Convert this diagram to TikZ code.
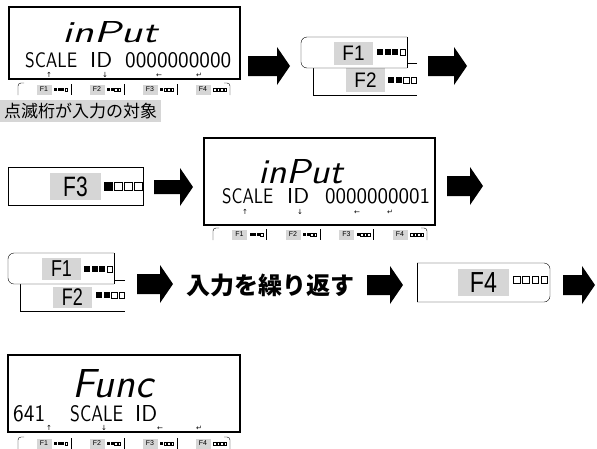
\documentclass[tikz,border=0pt]{standalone}
\usepackage{fontspec}
\usepackage{graphicx}
\newfontfamily\keyf{Liberation Sans}
\newfontfamily\symf{DejaVu Sans}
\newfontfamily\cjk{Noto Sans CJK JP}
\definecolor{keygray}{RGB}{214,214,214}
\newcommand\fs[1]{\fontsize{#1}{#1}\selectfont}
% LCD-like text: width, height, text
\newcommand\lcdtxt[3]{\resizebox{#1pt}{#2pt}{\sffamily #3}}
\newcommand\lcdital[3]{\resizebox{#1pt}{#2pt}{\sffamily\itshape #3}}
\tikzset{
  disp/.style={draw, line width=1.6pt},
  biglab/.style={fill=keygray, inner sep=0pt},
  minilab/.style={fill=keygray, inner sep=0pt, minimum width=15pt, minimum height=10pt, font=\keyf\fs{7}},
  txt/.style={inner sep=0pt},
  arr/.style={inner sep=0pt, text height=4pt, text depth=0pt, font=\symf\fs{7}},
  pics/fatarrow/.style args={#1/#2}{code={
    \fill (0,-#2) -- ({#1-13},-#2) -- ({#1-13},-19) -- (#1,0) -- ({#1-13},19) -- ({#1-13},#2) -- (0,#2) -- cycle;}}
}
\newcommand\sqrow[5]{%
  \foreach \k in {1,2,3,4}{%
    \ifnum\k>#5\relax
      \draw[line width=0.5pt] ({#1+(\k-1)*#4+0.25},{#2+0.25}) rectangle ++({#3-0.5},{#3-0.5});
    \else
      \fill ({#1+(\k-1)*#4},#2) rectangle ++(#3,#3);
    \fi}}
\newcommand\keybar[4]{%
  \draw[rounded corners=3pt] ({#2+6},#3) -- (#2,#3) -- (#2,{#3+12});
  \draw[rounded corners=3pt] ({#2+4*#4-6},#3) -- ({#2+4*#4},#3) -- ({#2+4*#4},{#3+12});
  \foreach \i/\nf in {1/3,2/2,3/1,4/0}{%
    \ifnum\i<4 \draw ({#2+\i*#4},{#3+1}) -- ({#2+\i*#4},{#3+12});\fi
    \node[minilab] (#1\i) at ({#2+\i*#4-27},{#3+6.5}) {F\i};
    \sqrow{#2+\i*#4-17}{#3+5}{3}{3.6}{\nf}
  }}
\begin{document}
\begin{tikzpicture}[x=1pt,y=-1pt]
\useasboundingbox (0,0) rectangle (597,448);

% ---------- display 1 ----------
\draw[disp] (9,7) rectangle (240,79);
\node[txt, anchor=base west] (d1big) at (62,42) {\lcdital{95}{21}{inPut}};
\node[txt, anchor=base west] (d1s) at (25,67) {\lcdtxt{52}{15}{SCALE}};
\node[txt, anchor=base west] (d1i) at (90,67) {\lcdtxt{22}{15}{ID}};
\node[txt, anchor=base west] (d1z) at (125,67) {\lcdtxt{106}{15}{0000000000}};
\node[arr] (d1u) at (49,75) {↑};
\node[arr] (d1d) at (105,75) {↓};
\node[arr] (d1l) at (159,75) {←};
\node[arr] (d1e) at (199,75) {↵};
\keybar{ka}{18}{83}{53}

\node[fill=keygray, anchor=north west, inner xsep=4pt, inner ysep=0pt, minimum height=22pt] (note) at (0,100) {\cjk\fs{17}点滅桁が入力の対象};

\pic at (248,66) {fatarrow=42/10};

% ---------- F1/F2 combo 1 ----------
\draw (417,63) -- (313,63) -- (313,95) -- (417,95);
\node[biglab, minimum width=39pt, minimum height=24pt] (c1f2) at (365.5,80) {\keyf\fs{21}\scalebox{0.9}[1]{F2}};
\sqrow{388}{77}{6}{7.5}{2}
\fill[white] (307,37) rectangle (407,68);
\fill[white, rounded corners=6pt] (301,37) rectangle (320,68);
\draw[rounded corners=6pt] (407,37) -- (301,37) -- (301,68) -- (407,68);
\draw (407,37) -- (407,68);
\node[biglab, minimum width=39pt, minimum height=23pt] (c1f1) at (353.5,53.5) {\keyf\fs{21}\scalebox{0.9}[1]{F1}};
\sqrow{377}{49}{6}{7.5}{3}

\pic at (428,66) {fatarrow=39/10};

% ---------- F3 ----------
\draw (8,167) rectangle (143,205);
\node[biglab, minimum width=51pt, minimum height=27pt] (f3) at (75.5,186.5) {\keyf\fs{28}\scalebox{0.75}[1]{F3}};
\sqrow{104}{182}{8.5}{10}{1}

\pic at (154,187) {fatarrow=39/7};

% ---------- display 2 ----------
\draw[disp] (204,138) rectangle (435,225);
\node[txt, anchor=base west] (d2big) at (258,183) {\lcdital{85}{24}{inPut}};
\node[txt, anchor=base west] (d2s) at (222,203) {\lcdtxt{51}{15}{SCALE}};
\node[txt, anchor=base west] (d2i) at (287,203) {\lcdtxt{22}{15}{ID}};
\node[txt, anchor=base west] (d2z) at (325,203) {\lcdtxt{105}{15}{0000000001}};
\node[arr] (d2u) at (245,212) {↑};
\node[arr] (d2d) at (300,212) {↓};
\node[arr] (d2l) at (357,212) {←};
\node[arr] (d2e) at (390,212) {↵};
\keybar{kb}{213}{228}{53.5}

\pic at (447,186) {fatarrow=36/10};

% ---------- F1/F2 combo 2 ----------
\draw (125,280) -- (20,280) -- (20,311) -- (125,311);
\node[biglab, minimum width=39pt, minimum height=21pt] (c2f2) at (72.5,297.5) {\keyf\fs{24}\scalebox{0.75}[1]{F2}};
\sqrow{96}{292}{6}{7.5}{2}
\fill[white] (14,253) rectangle (114,284);
\fill[white, rounded corners=6pt] (8,253) rectangle (30,284);
\draw[rounded corners=6pt] (114,253) -- (8,253) -- (8,284) -- (114,284);
\draw (114,253) -- (114,284);
\node[biglab, minimum width=39pt, minimum height=22pt] (c2f1) at (61.5,269) {\keyf\fs{23}\scalebox{0.78}[1]{F1}};
\sqrow{84}{266}{6}{7.5}{3}

\pic at (137,284) {fatarrow=36/10};

\node[txt] (repeat) at (270,285) {\cjk\bfseries\fs{24}入力を繰り返す};

\pic at (367,285) {fatarrow=36/10};

% ---------- F4 ----------
\draw[rounded corners=6pt] (417,263) -- (550,263) -- (550,302) -- (417,302);
\draw (417,263) -- (417,302);
\node[biglab, minimum width=51pt, minimum height=27pt] (f4) at (483.5,282.5) {\keyf\fs{29}\scalebox{0.8}[1]{F4}};
\sqrow{513}{276}{7}{9.3}{0}

\pic at (563,285) {fatarrow=32/10};

% ---------- display 3 ----------
\draw[disp] (8,355) rectangle (240,432);
\node[txt, anchor=base west] (d3big) at (72,397) {\lcdital{81}{28}{Func}};
\node[txt, anchor=base west] (d3num) at (13,421) {\lcdtxt{32}{16}{641}};
\node[txt, anchor=base west] (d3s) at (70,421) {\lcdtxt{53}{16}{SCALE}};
\node[txt, anchor=base west] (d3i) at (135,421) {\lcdtxt{22}{16}{ID}};
\node[arr] (d3u) at (49,428) {↑};
\node[arr] (d3d) at (104,428) {↓};
\node[arr] (d3l) at (160,428) {←};
\node[arr] (d3e) at (199,428) {↵};
\keybar{kc}{18}{437}{53}
\end{tikzpicture}
\end{document}
